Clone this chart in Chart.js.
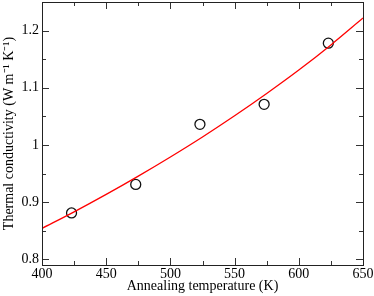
<!DOCTYPE html>
<html>
<head>
<meta charset="utf-8">
<script src="https://cdn.jsdelivr.net/npm/chart.js@4/dist/chart.umd.min.js"></script>
<style>
  html, body { margin: 0; padding: 0; background: #fff; }
  #wrap { width: 374px; height: 296px; }
</style>
</head>
<body>
<div id="wrap"><canvas id="c" width="374" height="296"></canvas></div>
<script>
// Measured data (annealing temperature in K, thermal conductivity in W m^-1 K^-1)
const annealT = [423, 473, 523, 573, 623];
const kappa   = [0.881, 0.931, 1.036, 1.071, 1.178];

// Fitted curve
const fitT = [400, 425, 450, 475, 500, 525, 550, 575, 600, 625, 650];
const fitK = [0.854, 0.883, 0.9135, 0.9455, 0.979, 1.014, 1.051, 1.090, 1.131, 1.175, 1.222];

// Tick values / labels
const xTicks = [400, 450, 500, 550, 600, 650];
const xTickLabels = ['400', '450', '500', '550', '600', '650'];
const xMinorTicks = [425, 475, 525, 575, 625];
const yTicks = [0.8, 0.9, 1.0, 1.1, 1.2];
const yTickLabels = ['0.8', '0.9', '1', '1.1', '1.2'];
const yMinorTicks = [0.85, 0.95, 1.05, 1.15];

const FONT = "'Liberation Serif', 'Times New Roman', serif";

const frameTicks = {
  id: 'frameTicks',
  afterDatasetsDraw(chart) {
    const ctx = chart.ctx;
    const a = chart.chartArea;
    const xs = chart.scales.x, ys = chart.scales.y;
    ctx.save();
    ctx.strokeStyle = '#333';
    ctx.lineWidth = 1;
    const tick = (x1, y1, x2, y2) => {
      ctx.beginPath(); ctx.moveTo(x1, y1); ctx.lineTo(x2, y2); ctx.stroke();
    };
    const MAJ = 7, MIN = 4;
    xTicks.forEach(v => {
      const p = Math.round(xs.getPixelForValue(v)) + 0.5;
      tick(p, a.bottom, p, a.bottom - MAJ);
      tick(p, a.top, p, a.top + MAJ);
    });
    xMinorTicks.forEach(v => {
      const p = Math.round(xs.getPixelForValue(v)) + 0.5;
      tick(p, a.bottom, p, a.bottom - MIN);
      tick(p, a.top, p, a.top + MIN);
    });
    yTicks.forEach(v => {
      const p = Math.round(ys.getPixelForValue(v)) + 0.5;
      tick(a.left, p, a.left + MAJ, p);
      tick(a.right, p, a.right - MAJ, p);
    });
    yMinorTicks.forEach(v => {
      const p = Math.round(ys.getPixelForValue(v)) + 0.5;
      tick(a.left, p, a.left + MIN, p);
      tick(a.right, p, a.right - MIN, p);
    });
    ctx.strokeStyle = '#222';
    ctx.strokeRect(Math.round(a.left) + 0.5, Math.round(a.top) + 0.5,
                   Math.round(a.right - a.left), Math.round(a.bottom - a.top));
    ctx.restore();
  }
};

new Chart(document.getElementById('c'), {
  type: 'scatter',
  data: {
    datasets: [
      {
        label: 'fit',
        data: fitT.map((t, i) => ({ x: t, y: fitK[i] })),
        showLine: true,
        borderColor: '#ff0000',
        borderWidth: 1.3,
        pointRadius: 0,
        cubicInterpolationMode: 'monotone',
        fill: false
      },
      {
        label: 'measured',
        data: annealT.map((t, i) => ({ x: t, y: kappa[i] })),
        showLine: false,
        pointStyle: 'circle',
        pointRadius: 5,
        pointBorderColor: '#111',
        pointBackgroundColor: 'rgba(0,0,0,0)',
        pointBorderWidth: 1.3
      }
    ]
  },
  options: {
    responsive: false,
    animation: false,
    devicePixelRatio: 1,
    layout: { autoPadding: false, padding: { top: 2, right: 11, left: 0, bottom: 0 } },
    plugins: { legend: { display: false }, tooltip: { enabled: false } },
    scales: {
      x: {
        type: 'linear',
        min: 400, max: 650,
        afterBuildTicks: s => { s.ticks = xTicks.map(v => ({ value: v })); },
        afterFit: s => { s.height = 31; s.paddingLeft = 0; s.paddingRight = 0; },
        grid: { display: false, drawTicks: false },
        border: { display: false },
        ticks: {
          color: '#000',
          font: { family: FONT, size: 14 },
          padding: 1,
          maxRotation: 0,
          autoSkip: false,
          callback: (v, i) => xTickLabels[i]
        },
        title: {
          display: true,
          text: 'Annealing temperature (K)',
          color: '#000',
          font: { family: FONT, size: 14 },
          padding: { top: 0, bottom: 1 }
        }
      },
      y: {
        type: 'linear',
        min: 0.79, max: 1.25,
        afterBuildTicks: s => { s.ticks = yTicks.map(v => ({ value: v })); },
        afterFit: s => { s.width = 42; s.paddingTop = 0; s.paddingBottom = 0; },
        grid: { display: false, drawTicks: false },
        border: { display: false },
        ticks: {
          color: '#000',
          font: { family: FONT, size: 14 },
          padding: 3,
          autoSkip: false,
          callback: (v, i) => yTickLabels[i]
        },
        title: {
          display: true,
          text: 'Thermal conductivity (W m⁻¹ K⁻¹)',
          color: '#000',
          font: { family: FONT, size: 14 },
          padding: { top: 1, bottom: 0 }
        }
      }
    }
  },
  plugins: [frameTicks]
});
</script>
</body>
</html>
